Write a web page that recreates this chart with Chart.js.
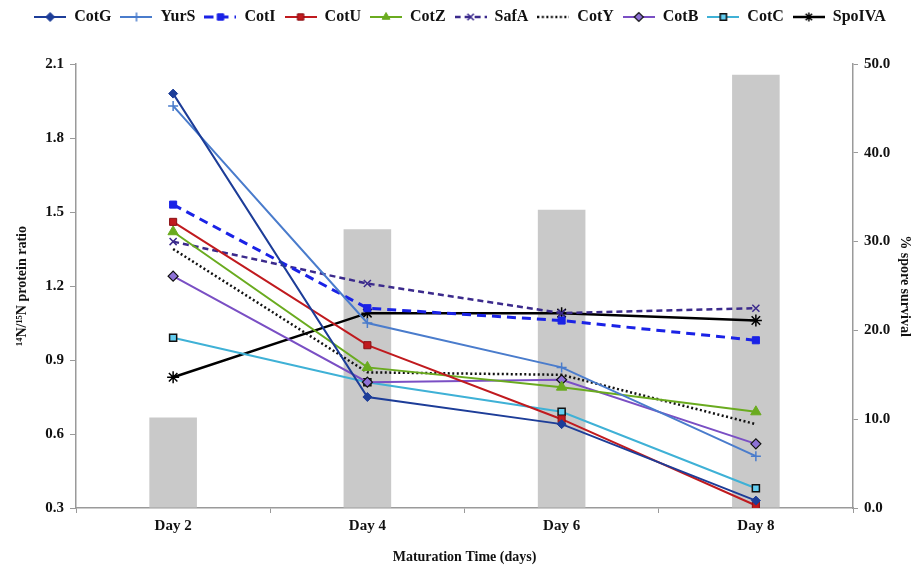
<!DOCTYPE html>
<html>
<head>
<meta charset="utf-8">
<script src="https://cdn.jsdelivr.net/npm/chart.js@4.4.1/dist/chart.umd.min.js"></script>
<style>
  html, body { margin: 0; padding: 0; background: #fff; }
  #wrap { width: 920px; height: 570px; }
</style>
</head>
<body>
<div id="wrap"><canvas id="c" width="920" height="570"></canvas></div>
<script>
// categories
const days = ['Day 2', 'Day 4', 'Day 6', 'Day 8'];

// 14N/15N protein ratio per coat protein (left axis)
const cotG   = [1.98, 0.75, 0.64, 0.33];
const yurS   = [1.93, 1.05, 0.87, 0.51];
const cotI   = [1.53, 1.11, 1.06, 0.98];
const cotU   = [1.46, 0.96, 0.66, 0.31];
const cotZ   = [1.42, 0.87, 0.79, 0.69];
const safA   = [1.38, 1.21, 1.09, 1.11];
const cotY   = [1.35, 0.85, 0.84, 0.64];
const cotB   = [1.24, 0.81, 0.82, 0.56];
const cotC   = [0.99, 0.81, 0.69, 0.38];
const spoIVA = [0.83, 1.09, 1.09, 1.06];

// % spore survival (right axis, bars)
const survival = [10.2, 31.4, 33.6, 48.8];

// left / right tick labels
const leftTicks = [0.3, 0.6, 0.9, 1.2, 1.5, 1.8, 2.1];
const rightTicks = [0, 10, 20, 30, 40, 50];

const SERIF = "'Liberation Serif', 'Times New Roman', serif";

// small canvas used as legend swatch: line segment plus marker
function swatch(s) {
  const c = document.createElement('canvas');
  c.width = 32; c.height = 14;
  const g = c.getContext('2d');
  g.strokeStyle = s.borderColor;
  g.lineWidth = s.borderWidth;
  g.setLineDash(s.borderDash || []);
  g.beginPath(); g.moveTo(0, 7); g.lineTo(32, 7); g.stroke();
  g.setLineDash([]);
  if (s.pointStyle && s.pointRadius) {
    g.fillStyle = s.pointBackgroundColor;
    g.strokeStyle = s.pointBorderColor;
    g.lineWidth = s.pointBorderWidth;
    Chart.helpers.drawPoint(g, {
      pointStyle: s.pointStyle, radius: Math.min(s.pointRadius, 4.5),
      borderWidth: s.pointBorderWidth, rotation: 0
    }, 16, 7);
  }
  return c;
}

function line(label, data, color, opts) {
  return Object.assign({
    type: 'line', label: label, data: data, yAxisID: 'y',
    borderColor: color, borderWidth: 2, fill: false, tension: 0,
    pointStyle: 'rect', pointRadius: 4.5, pointHoverRadius: 4.5,
    pointBackgroundColor: color, pointBorderColor: color, pointBorderWidth: 1,
    order: 1
  }, opts || {});
}

const series = [
  line('CotG', cotG, '#1d3d98', { pointStyle: 'rectRot', pointRadius: 4.5 }),
  line('YurS', yurS, '#4a7ccc', { pointStyle: 'cross', pointRadius: 5, pointBorderWidth: 1.5 }),
  line('CotI', cotI, '#1a22e6', { borderDash: [9, 6], borderWidth: 3, pointRadius: 5 }),
  line('CotU', cotU, '#c01a1e', { pointRadius: 5, pointBorderColor: '#8a1014' }),
  line('CotZ', cotZ, '#6aab1f', { pointStyle: 'triangle', pointRadius: 6 }),
  line('SafA', safA, '#3b2a8c', { borderDash: [6, 4], borderWidth: 2.5, pointStyle: 'crossRot', pointRadius: 5, pointBorderWidth: 1.5 }),
  line('CotY', cotY, '#111111', { borderDash: [2, 2.5], borderWidth: 2.5, pointRadius: 0, pointStyle: false }),
  line('CotB', cotB, '#7a4fc4', { pointStyle: 'rectRot', pointRadius: 5, pointBackgroundColor: '#8e72d6', pointBorderColor: '#111', pointBorderWidth: 1.2 }),
  line('CotC', cotC, '#3fb1d6', { pointRadius: 5, pointBackgroundColor: '#63cdf0', pointBorderColor: '#111', pointBorderWidth: 1.5 }),
  line('SpoIVA', spoIVA, '#000000', { borderWidth: 2.5, pointStyle: 'star', pointRadius: 6, pointBorderWidth: 1.5 })
];

const bars = {
  type: 'bar', label: '% spore survival', data: survival, yAxisID: 'y2',
  backgroundColor: '#c9c9c9', borderWidth: 0,
  categoryPercentage: 1, barPercentage: 0.245, order: 10
};

// make room between legend and plot like the original
const legendSpacer = {
  id: 'legendSpacer',
  beforeLayout(chart) {
    const lg = chart.legend;
    if (lg && !lg._patched) {
      const fit = lg.fit;
      lg.fit = function () { fit.call(this); this.height = 64; };
      lg._patched = true;
    }
  }
};

const tickFont = { family: SERIF, size: 15, weight: 'bold' };
const titleFont = { family: SERIF, size: 14, weight: 'bold' };

new Chart(document.getElementById('c'), {
  type: 'bar',
  data: { labels: days, datasets: series.concat([bars]) },
  plugins: [legendSpacer],
  options: {
    responsive: false,
    animation: false,
    layout: { padding: { top: 0, left: 0, right: 0, bottom: 0 } },
    plugins: {
      tooltip: { enabled: false },
      legend: {
        position: 'top',
        labels: {
          usePointStyle: true,
          pointStyleWidth: 32,
          padding: 9,
          color: '#111',
          font: { family: SERIF, size: 16, weight: 'bold' },
          filter: item => item.datasetIndex < series.length,
          generateLabels: chart => series.map((s, i) => ({
            text: s.label, datasetIndex: i, pointStyle: swatch(s),
            fillStyle: s.borderColor, strokeStyle: s.borderColor,
            lineWidth: 0, hidden: false, fontColor: '#111'
          }))
        }
      }
    },
    scales: {
      x: {
        offset: true,
        grid: { offset: true, drawOnChartArea: false, tickLength: 5, color: '#9a9a9a' },
        border: { color: '#9a9a9a', width: 1.5 },
        ticks: { font: tickFont, color: '#111', padding: 4 },
        title: { display: true, text: 'Maturation Time (days)', font: titleFont, color: '#111', padding: { top: 4 } },
        afterFit: s => { s.height = 62; }
      },
      y: {
        position: 'left', min: 0.3, max: 2.1,
        afterBuildTicks: s => { s.ticks = leftTicks.map(v => ({ value: v })); },
        grid: { drawOnChartArea: false, tickLength: 6, color: '#9a9a9a' },
        border: { color: '#9a9a9a', width: 1.5 },
        ticks: { font: tickFont, color: '#111', padding: 6, callback: v => Number(v).toFixed(1) },
        title: { display: true, text: '¹⁴N/¹⁵N protein ratio', font: titleFont, color: '#111', padding: { top: 14, bottom: 0 } },
        afterFit: s => { s.width = 76; }
      },
      y2: {
        position: 'right', min: 0, max: 50,
        afterBuildTicks: s => { s.ticks = rightTicks.map(v => ({ value: v })); },
        grid: { drawOnChartArea: false, tickLength: 5, color: '#9a9a9a' },
        border: { color: '#9a9a9a', width: 1.5 },
        ticks: { font: tickFont, color: '#111', padding: 6, callback: v => Number(v).toFixed(1) },
        title: { display: true, text: '% spore survival', font: titleFont, color: '#111', padding: { top: 7, bottom: 0 } },
        afterFit: s => { s.width = 67; }
      }
    }
  }
});
</script>
</body>
</html>
